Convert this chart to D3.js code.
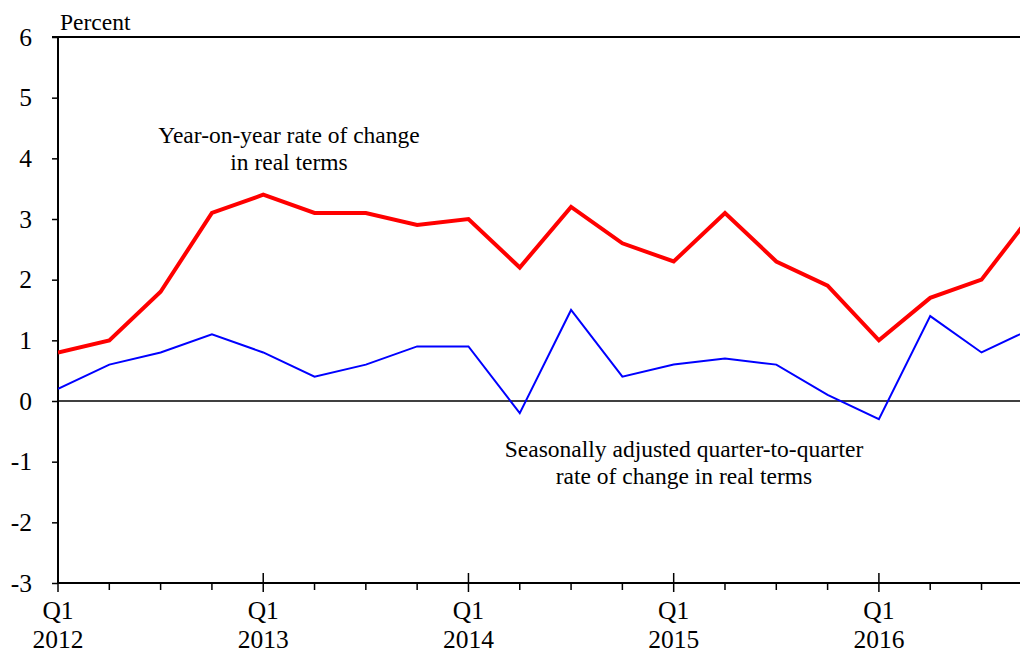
<!DOCTYPE html>
<html>
<head>
<meta charset="utf-8">
<script src="https://cdn.jsdelivr.net/npm/d3@7"></script>
<style>
  html, body { margin: 0; padding: 0; background: #fff; }
  svg { display: block; font-family: "Liberation Serif", "Times New Roman", serif; }
</style>
</head>
<body>
<svg id="chart" width="1020" height="653"></svg>
<script>
// Quarter index 0 = Q1 2012
const quarters = ["Q1 2012","Q2 2012","Q3 2012","Q4 2012","Q1 2013","Q2 2013","Q3 2013","Q4 2013",
  "Q1 2014","Q2 2014","Q3 2014","Q4 2014","Q1 2015","Q2 2015","Q3 2015","Q4 2015",
  "Q1 2016","Q2 2016","Q3 2016","Q4 2016"];
const yearOnYear = [0.8, 1.0, 1.8, 3.1, 3.4, 3.1, 3.1, 2.9, 3.0, 2.2, 3.2, 2.6, 2.3, 3.1, 2.3, 1.9, 1.0, 1.7, 2.0, 3.1];
const quarterOnQuarter = [0.2, 0.6, 0.8, 1.1, 0.8, 0.4, 0.6, 0.9, 0.9, -0.2, 1.5, 0.4, 0.6, 0.7, 0.6, 0.1, -0.3, 1.4, 0.8, 1.2];
const yTicks = [6, 5, 4, 3, 2, 1, 0, -1, -2, -3];
const yearLabels = ["2012", "2013", "2014", "2015", "2016"];

const svg = d3.select("#chart");
const L = 58, R = 1020, T = 37, B = 583;
const FS = 23.5;   // annotation / label text
const TFS = 25.5;  // tick labels

const x = d3.scaleLinear().domain([0, 18.75]).range([L, R]);
const y = d3.scaleLinear().domain([-3, 6]).range([B, T]);

svg.append("defs").append("clipPath").attr("id", "clip")
  .append("rect").attr("x", L).attr("y", T - 5).attr("width", R - L).attr("height", B - T + 10);

// Y axis
const yAxis = d3.axisLeft(y).tickValues(yTicks).tickSize(6).tickPadding(20).tickFormat(d => String(d));
const gy = svg.append("g").attr("transform", `translate(${L},0)`).call(yAxis);
gy.attr("font-family", null).attr("font-size", null);
gy.select(".domain").attr("stroke", "#000").attr("stroke-width", 2).attr("d", `M0,${T}V${B}`);
gy.selectAll(".tick line").attr("stroke", "#000").attr("stroke-width", 1.5);
gy.selectAll(".tick text").attr("font-size", TFS).attr("fill", "#000");

// Top frame line
svg.append("line").attr("x1", L - 6).attr("x2", R).attr("y1", T).attr("y2", T)
  .attr("stroke", "#000").attr("stroke-width", 2);

// X axis: minor ticks every quarter
const minorTicks = d3.range(0, quarters.length).filter(i => x(i) <= R);
const gx = svg.append("g").attr("transform", `translate(0,${B})`);
gx.append("line").attr("x1", L).attr("x2", R).attr("y1", 0).attr("y2", 0)
  .attr("stroke", "#000").attr("stroke-width", 2);
gx.selectAll("line.minor").data(minorTicks).join("line").attr("class", "minor")
  .attr("x1", d => x(d)).attr("x2", d => x(d))
  .attr("y1", d => d % 4 === 0 ? -10 : 0).attr("y2", d => d % 4 === 0 ? 9 : 7)
  .attr("stroke", "#000").attr("stroke-width", 1.5);
const majors = minorTicks.filter(d => d % 4 === 0);
gx.selectAll("text.q").data(majors).join("text").attr("class", "q")
  .attr("x", d => x(d)).attr("y", 36).attr("text-anchor", "middle")
  .attr("font-size", TFS).text("Q1");
gx.selectAll("text.yr").data(majors).join("text").attr("class", "yr")
  .attr("x", d => x(d)).attr("y", 65).attr("text-anchor", "middle")
  .attr("font-size", TFS).text((d, i) => yearLabels[i]);

// Zero line
svg.append("line").attr("x1", L).attr("x2", R).attr("y1", y(0)).attr("y2", y(0))
  .attr("stroke", "#000").attr("stroke-width", 1.5);

// Lines
const line = d3.line().x((d, i) => x(i)).y(d => y(d));
const plot = svg.append("g").attr("clip-path", "url(#clip)");
plot.append("path").datum(quarterOnQuarter).attr("d", line)
  .attr("fill", "none").attr("stroke", "#0000ff").attr("stroke-width", 2);
plot.append("path").datum(yearOnYear).attr("d", line)
  .attr("fill", "none").attr("stroke", "#ff0000").attr("stroke-width", 4);

// Texts
svg.append("text").attr("x", 60).attr("y", 30).attr("font-size", FS).text("Percent");
const ann1 = svg.append("text").attr("text-anchor", "middle").attr("font-size", FS);
ann1.append("tspan").attr("x", 289).attr("y", 143).text("Year-on-year rate of change");
ann1.append("tspan").attr("x", 289).attr("y", 170).text("in real terms");
const ann2 = svg.append("text").attr("text-anchor", "middle").attr("font-size", FS);
ann2.append("tspan").attr("x", 684).attr("y", 457).text("Seasonally adjusted quarter-to-quarter");
ann2.append("tspan").attr("x", 684).attr("y", 484).text("rate of change in real terms");
</script>
</body>
</html>
